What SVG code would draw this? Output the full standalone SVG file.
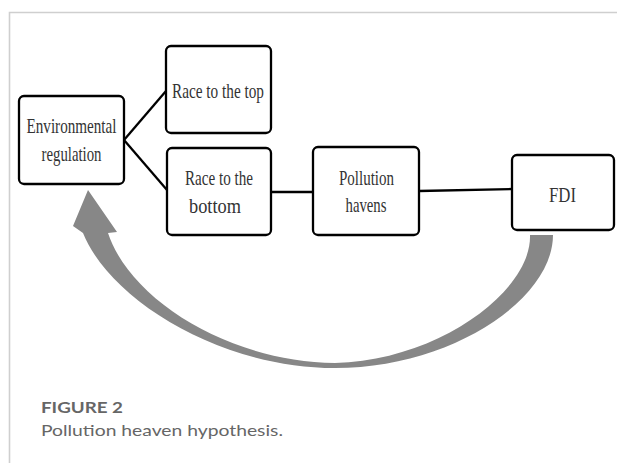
<svg xmlns="http://www.w3.org/2000/svg" width="617" height="463" viewBox="0 0 617 463">
<style>
.box{fill:#fff;stroke:#000;stroke-width:2.3}
.lbl{font-family:"Liberation Serif","DejaVu Serif",serif;font-size:22px;fill:#333;text-anchor:middle}
.conn{stroke:#000;stroke-width:2.3;fill:none}
.cap{font-family:Lato,"Open Sans",sans-serif;fill:#666}
</style>
<rect width="617" height="463" fill="#fff"/>
<g id="frame" stroke="#cfcfcf" stroke-width="1.6" fill="none">
<path d="M9.5 463 V12.5 H617"/>
</g>
<g id="connectors">
<line class="conn" x1="124" y1="140" x2="166" y2="91"/>
<line class="conn" x1="124" y1="140" x2="167" y2="190"/>
<line class="conn" x1="271" y1="192" x2="313" y2="192"/>
<line class="conn" x1="419" y1="191" x2="512" y2="189" stroke-width="3.4"/>
<path id="feedback" d="M553 235 C553 300 450 368 335 368 C220 368 110 300 83 233 L73 226 L88 190 L117 232 L108 233 C130 300 230 362 335 363 C440 360 532 290 530 235 Z" fill="#878787"/>
</g>
<g id="env">
<rect class="box" x="19" y="96" width="105" height="88" rx="5"/>
<text class="lbl" x="71.5" y="133" textLength="90" lengthAdjust="spacingAndGlyphs">Environmental</text>
<text class="lbl" x="71.5" y="161" textLength="60" lengthAdjust="spacingAndGlyphs">regulation</text>
</g>
<g id="top">
<rect class="box" x="166" y="46" width="105" height="87" rx="5"/>
<text class="lbl" x="218" y="98" textLength="92" lengthAdjust="spacingAndGlyphs">Race to the top</text>
</g>
<g id="bottom">
<rect class="box" x="167" y="148" width="104" height="87" rx="5"/>
<text class="lbl" x="219" y="185" textLength="68" lengthAdjust="spacingAndGlyphs">Race to the</text>
<text class="lbl" x="215" y="213" textLength="52" lengthAdjust="spacingAndGlyphs">bottom</text>
</g>
<g id="havens">
<rect class="box" x="313" y="147" width="106" height="88" rx="5"/>
<text class="lbl" x="366.5" y="185" textLength="55" lengthAdjust="spacingAndGlyphs">Pollution</text>
<text class="lbl" x="366" y="212" textLength="41" lengthAdjust="spacingAndGlyphs">havens</text>
</g>
<g id="fdi">
<rect class="box" x="512" y="155" width="102" height="75" rx="5"/>
<text class="lbl" x="562.5" y="202" textLength="27" lengthAdjust="spacingAndGlyphs">FDI</text>
</g>
<g id="caption">
<text class="cap" x="41" y="413" font-size="15.5" font-weight="bold" fill="#5a5a5a" textLength="82" lengthAdjust="spacingAndGlyphs">FIGURE 2</text>
<text class="cap" x="41" y="436" font-size="16" textLength="242" lengthAdjust="spacingAndGlyphs">Pollution heaven hypothesis.</text>
</g>
</svg>
